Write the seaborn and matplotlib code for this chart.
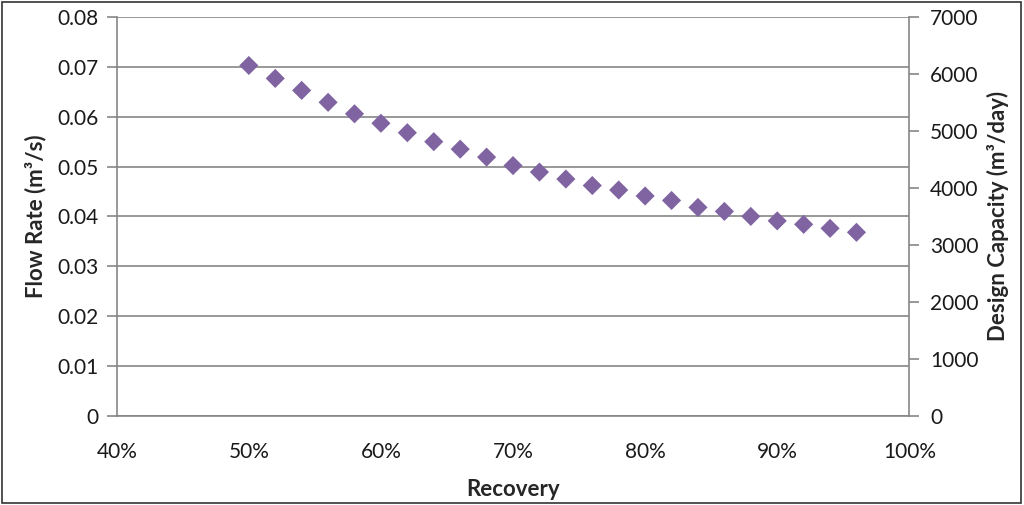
# Flow rate vs recovery, with a secondary design-capacity axis.
import matplotlib
matplotlib.use("Agg")
import matplotlib.pyplot as plt
import matplotlib.ticker as mticker
import pandas as pd
import seaborn as sns

# data
recovery = [0.50, 0.52, 0.54, 0.56, 0.58, 0.60, 0.62, 0.64, 0.66, 0.68, 0.70, 0.72,
            0.74, 0.76, 0.78, 0.80, 0.82, 0.84, 0.86, 0.88, 0.90, 0.92, 0.94, 0.96]
flow_rate = [0.0703, 0.0677, 0.0653, 0.0629, 0.0606, 0.0587, 0.0568, 0.0550,
             0.0535, 0.0519, 0.0502, 0.0489, 0.0475, 0.0462, 0.0453, 0.0441,
             0.0432, 0.0418, 0.0410, 0.0400, 0.0391, 0.0384, 0.0376, 0.0368]
x_ticks = [0.4, 0.5, 0.6, 0.7, 0.8, 0.9, 1.0]
left_ticks = [0, 0.01, 0.02, 0.03, 0.04, 0.05, 0.06, 0.07, 0.08]
right_ticks = [0, 1000, 2000, 3000, 4000, 5000, 6000, 7000]

df = pd.DataFrame({"Recovery": recovery, "Flow": flow_rate})

sns.set_style("white")
plt.rcParams["font.family"] = ["Lato", "DejaVu Sans"]

GREY = "#868686"
PURPLE = "#8064A2"

fig = plt.figure(figsize=(10.24, 5.05), dpi=100)
ax = fig.add_axes([0.114, 0.177, 0.774, 0.789])

sns.scatterplot(data=df, x="Recovery", y="Flow", marker="D", s=95,
                color=PURPLE, edgecolor="none", ax=ax, zorder=5)

ax.set_xlim(0.4, 1.0)
ax.set_ylim(0, 0.08)
ax.set_xticks(x_ticks)
ax.set_yticks(left_ticks)
ax.xaxis.set_major_formatter(mticker.FuncFormatter(lambda v, _: f"{v*100:.0f}%"))
ax.yaxis.set_major_formatter(mticker.FuncFormatter(lambda v, _: "0" if v == 0 else f"{v:.2f}"))
ax.yaxis.grid(True, color=GREY, linewidth=1.2)
ax.xaxis.grid(False)
ax.set_axisbelow(True)

for side in ["top", "right"]:
    ax.spines[side].set_visible(False)
for side in ["left", "bottom"]:
    ax.spines[side].set_color(GREY)
    ax.spines[side].set_linewidth(1.2)

ax.tick_params(axis="both", direction="out", length=7, width=1.2, color=GREY,
               labelsize=15, labelcolor="#1a1a1a")
ax.tick_params(axis="x", pad=12)
ax.tick_params(axis="y", pad=6)
ax.set_xlabel("Recovery", fontsize=16, fontweight="bold", labelpad=12)
ax.set_ylabel("Flow Rate (m³/s)", fontsize=16, fontweight="bold", labelpad=8)

# secondary axis
ax2 = ax.twinx()
ax2.set_ylim(0, 7000)
ax2.set_yticks(right_ticks)
for side in ["top", "left", "bottom"]:
    ax2.spines[side].set_visible(False)
ax2.spines["right"].set_color(GREY)
ax2.spines["right"].set_linewidth(1.2)
ax2.tick_params(axis="y", direction="out", length=7, width=1.2, color=GREY,
                labelsize=15, labelcolor="#1a1a1a", pad=8)
ax2.set_ylabel("Design Capacity (m³/day)", fontsize=16, fontweight="bold", labelpad=6)
ax2.grid(False)

# outer frame
fig.patches.append(plt.Rectangle((0.002, 0.004), 0.995, 0.992, transform=fig.transFigure,
                                 fill=False, edgecolor="#333333", linewidth=1.2))

fig.savefig("out.png", dpi=100, facecolor="white")
